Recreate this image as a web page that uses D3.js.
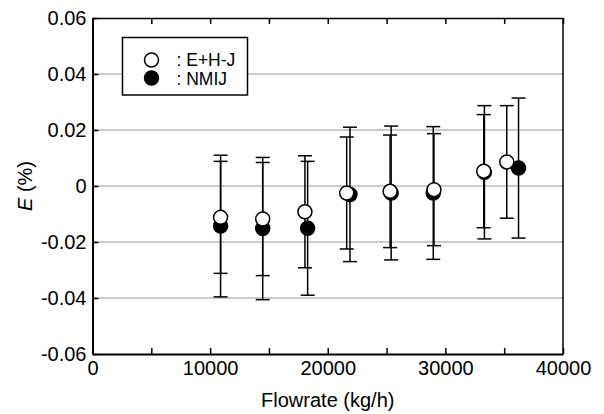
<!DOCTYPE html>
<html>
<head>
<meta charset="utf-8">
<script src="https://cdn.jsdelivr.net/npm/d3@7"></script>
<style>
  body { margin: 0; background: #fff; }
  text { font-family: "Liberation Sans", Arial, sans-serif; fill: #000; }
</style>
</head>
<body>
<div id="chart"></div>
<script>
const width = 604
const height = 414
const margin = { top: 18, right: 41, bottom: 60, left: 92.5 }

// E+H-J (open circles)
const ehjFlow = [10890, 14470, 18060, 21610, 25300, 29030, 33260, 35220]
const ehjE = [-0.0112, -0.0118, -0.0092, -0.0025, -0.0019, -0.0013, 0.0053, 0.0086]
const ehjU = [0.0200, 0.0202, 0.0200, 0.0200, 0.0201, 0.0200, 0.0202, 0.0201]
// NMIJ (filled circles)
const nmijFlow = [10890, 14470, 18290, 21890, 25390, 28970, 33320, 36220]
const nmijE = [-0.0143, -0.0152, -0.0151, -0.0030, -0.0025, -0.0025, 0.0049, 0.0064]
const nmijU = [0.0253, 0.0254, 0.0239, 0.0240, 0.0239, 0.0237, 0.0238, 0.0250]

const xTicks = [0, 10000, 20000, 30000, 40000]
const xMinor = [5000, 15000, 25000, 35000]
const yTicks = [-0.06, -0.04, -0.02, 0, 0.02, 0.04, 0.06]

const svg = d3.select('#chart')
    .append('svg')
    .attr('width', width)
    .attr('height', height)

const x = d3.scaleLinear().domain([0, 40000]).range([margin.left, width - margin.right])
const y = d3.scaleLinear().domain([-0.06, 0.06]).range([height - margin.bottom, margin.top])

// gridlines
svg.append('g')
    .selectAll('line')
    .data(yTicks.slice(1, -1))
    .join('line')
    .attr('x1', x(0))
    .attr('x2', x(40000))
    .attr('y1', d => y(d))
    .attr('y2', d => y(d))
    .attr('stroke', '#999')
    .attr('stroke-width', 1)

const fmtY = d => d === 0 ? '0' : d3.format('.2f')(d).replace('−', '-')

// bottom axis, ticks inward
svg.append('g')
    .attr('transform', `translate(0,${y(-0.06)})`)
    .call(d3.axisBottom(x).tickValues(xTicks.concat(xMinor)).tickSizeInner(-6).tickSizeOuter(0)
        .tickFormat(d => xTicks.includes(d) ? d : ''))
    .call(g => g.select('.domain').attr('stroke-width', 2))
    .call(g => g.selectAll('.tick line').attr('stroke-width', 1.5))
    .call(g => g.selectAll('.tick text').attr('dy', '0.75em').attr('y', 6)
        .style('font-size', '20px').style('font-family', '"Liberation Sans", Arial, sans-serif'))

// top axis
svg.append('g')
    .attr('transform', `translate(0,${y(0.06)})`)
    .call(d3.axisTop(x).tickValues(xTicks.concat(xMinor)).tickSizeInner(-6).tickSizeOuter(0).tickFormat(''))
    .call(g => g.select('.domain').attr('stroke-width', 1.5))
    .call(g => g.selectAll('.tick line').attr('stroke-width', 1.5))

// left axis
svg.append('g')
    .attr('transform', `translate(${x(0)},0)`)
    .call(d3.axisLeft(y).tickValues(yTicks).tickSizeInner(-6).tickSizeOuter(0).tickFormat(fmtY))
    .call(g => g.select('.domain').attr('stroke-width', 2))
    .call(g => g.selectAll('.tick line').attr('stroke-width', 1.5))
    .call(g => g.selectAll('.tick text').attr('x', -6)
        .style('font-size', '20px').style('font-family', '"Liberation Sans", Arial, sans-serif'))

// right frame
svg.append('line')
    .attr('x1', x(40000)).attr('x2', x(40000))
    .attr('y1', y(0.06)).attr('y2', y(-0.06))
    .attr('stroke', '#000').attr('stroke-width', 1.5)

// axis titles
svg.append('text')
    .attr('x', x(20000))
    .attr('y', 407)
    .attr('text-anchor', 'middle')
    .attr('fill', '#000')
    .style('font-size', '20px')
    .text('Flowrate (kg/h)')

const yTitle = svg.append('text')
    .attr('transform', `translate(32,${y(0)}) rotate(-90)`)
    .attr('text-anchor', 'middle')
    .attr('fill', '#000')
    .style('fill', '#000')
    .style('font-size', '20px')
yTitle.append('tspan').style('font-style', 'italic').style('fill', '#000').text('E')
yTitle.append('tspan').style('fill', '#000').text(' (%)')

const ehj = ehjFlow.map((f, i) => ({ f, e: ehjE[i], u: ehjU[i] }))
const nmij = nmijFlow.map((f, i) => ({ f, e: nmijE[i], u: nmijU[i] }))
const capW = 7

const drawBars = (data) => {
    const g = svg.append('g').attr('stroke', '#000').attr('stroke-width', 1.5)
    g.selectAll('.v').data(data).join('line')
        .attr('x1', d => x(d.f)).attr('x2', d => x(d.f))
        .attr('y1', d => y(d.e + d.u)).attr('y2', d => y(d.e - d.u))
    g.selectAll('.t').data(data).join('line')
        .attr('x1', d => x(d.f) - capW).attr('x2', d => x(d.f) + capW)
        .attr('y1', d => y(d.e + d.u)).attr('y2', d => y(d.e + d.u))
    g.selectAll('.b').data(data).join('line')
        .attr('x1', d => x(d.f) - capW).attr('x2', d => x(d.f) + capW)
        .attr('y1', d => y(d.e - d.u)).attr('y2', d => y(d.e - d.u))
}
drawBars(nmij)
drawBars(ehj)

svg.append('g').selectAll('circle').data(nmij).join('circle')
    .attr('cx', d => x(d.f)).attr('cy', d => y(d.e)).attr('r', 7)
    .attr('fill', '#000').attr('stroke', '#000').attr('stroke-width', 1.5)
svg.append('g').selectAll('circle').data(ehj).join('circle')
    .attr('cx', d => x(d.f)).attr('cy', d => y(d.e)).attr('r', 7)
    .attr('fill', '#fff').attr('stroke', '#000').attr('stroke-width', 1.5)

// legend
const legend = svg.append('g').attr('transform', 'translate(122.5,37.5)')
legend.append('rect')
    .attr('width', 125).attr('height', 57.5)
    .attr('fill', '#fff').attr('stroke', '#000').attr('stroke-width', 1.5)
const legItems = [{ name: ': E+H-J', fill: '#fff' }, { name: ': NMIJ', fill: '#000' }]
legItems.forEach((d, i) => {
    legend.append('circle')
        .attr('cx', 29).attr('cy', 22.5 + i * 18).attr('r', 7)
        .attr('fill', d.fill).attr('stroke', '#000').attr('stroke-width', 1.5)
    legend.append('text')
        .attr('x', 54).attr('y', 22 + i * 19).attr('dy', '0.36em')
        .style('font-size', '17.5px')
        .text(d.name)
})
</script>
</body>
</html>
